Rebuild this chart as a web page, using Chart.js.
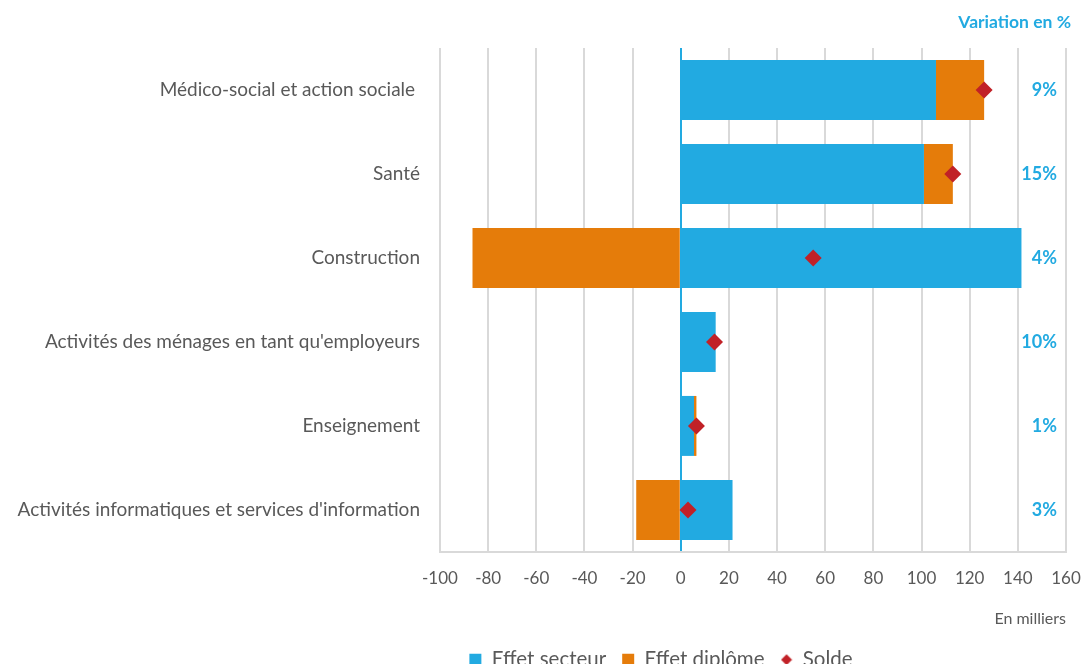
<!DOCTYPE html>
<html>
<head>
<meta charset="utf-8">
<script src="https://cdn.jsdelivr.net/npm/chart.js@4/dist/chart.umd.min.js"></script>
<style>
  body { margin: 0; overflow: hidden; background: #fff; }
  #cont { width: 1083px; height: 680px; }
</style>
</head>
<body>
<div id="cont"><canvas id="grafico"></canvas></div>
<script>
// Données du graphique
const secteurs = [
	"Médico-social et action sociale ",
	"Santé",
	"Construction",
	"Activités des ménages en tant qu'employeurs",
	"Enseignement",
	"Activités informatiques et services d'information",
];
const effetSecteur = [106, 101, 141.5, 14.5, 5.5, 21.5];
const effetDiplome = [20, 12, -86.5, 0, 1, -18.5];
const solde = [126, 113, 55, 14, 6.5, 3];
const variation = ["9%", "15%", "4%", "10%", "1%", "3%"];

const bleu = "rgb(34,170,225)";
const orange = "rgb(229,124,10)";
const rouge = "rgb(193,33,39)";
const gris = "#595959";
const police = "Lato, 'Open Sans', sans-serif";

// petit losange pour la légende
const losange = document.createElement("canvas");
losange.width = 12;
losange.height = 12;
(function () {
	const c = losange.getContext("2d");
	c.fillStyle = rouge;
	c.beginPath();
	c.moveTo(6, 0.5);
	c.lineTo(11.5, 6);
	c.lineTo(6, 11.5);
	c.lineTo(0.5, 6);
	c.closePath();
	c.fill();
})();

/* Textes à droite : variation en % */
const variationPlugin = {
	id: "variation",
	afterLayout(chart) {
		// les libellés de l'axe y débordent à gauche de la boîte de l'axe
		chart.scales.y.left = 0;
	},
	afterDatasetsDraw(chart) {
		const ctx = chart.ctx;
		const y = chart.scales.y;
		ctx.save();
		ctx.fillStyle = bleu;
		ctx.textAlign = "right";
		ctx.textBaseline = "middle";
		ctx.font = "bold 18px " + police;
		variation.forEach((v, i) => {
			ctx.fillText(v, 1057, y.getPixelForValue(i));
		});
		ctx.font = "bold 17.5px " + police;
		ctx.fillText("Variation en %", 1071, 22);
		ctx.restore();
	},
};

const plotRef = document.getElementById("grafico");
let config = {
	type: "bar",
	data: {
		labels: secteurs,
		datasets: [
			{
				label: "Effet secteur",
				data: effetSecteur,
				backgroundColor: bleu,
				stack: "effets",
				categoryPercentage: 0.714,
				barPercentage: 1,
			},
			{
				label: "Effet diplôme",
				data: effetDiplome,
				backgroundColor: orange,
				stack: "effets",
				categoryPercentage: 0.714,
				barPercentage: 1,
			},
			{
				type: "line",
				label: "Solde",
				data: solde,
				stack: "solde",
				showLine: false,
				pointStyle: "rectRot",
				pointRadius: 8.5,
				pointHoverRadius: 8.5,
				backgroundColor: rouge,
				borderColor: rouge,
				borderWidth: 0,
				order: -1,
			},
		],
	},
	options: {
		indexAxis: "y",
		responsive: true,
		maintainAspectRatio: false,
		animation: false,
		devicePixelRatio: 1,
		layout: { padding: { top: 48, right: 17, left: 256, bottom: 0 } },
		plugins: {
			tooltip: { enabled: false },
			legend: {
				position: "bottom",
				labels: {
					color: gris,
					font: { family: police, size: 20.5 },
					usePointStyle: true,
					boxHeight: 12,
					boxWidth: 12,
					padding: 16,
					sort: (a, b) => a.datasetIndex - b.datasetIndex,
					generateLabels(chart) {
						const items = Chart.defaults.plugins.legend.labels.generateLabels(chart);
						items.forEach((it) => {
							if (it.text === "Solde") it.pointStyle = losange;
							else it.pointStyle = "rect";
							it.lineWidth = 0;
						});
						return items;
					},
				},
			},
		},
		scales: {
			x: {
				stacked: true,
				min: -100,
				max: 160,
				ticks: {
					stepSize: 20,
					color: gris,
					font: { family: police, size: 17 },
					padding: 16,
				},
				grid: {
					drawTicks: false,
					color: (c) => (c.tick && c.tick.value === 0 ? bleu : "#d9d9d9"),
					lineWidth: 2,
				},
				border: { display: true, color: "#d9d9d9", width: 2 },
				title: {
					display: true,
					text: "En milliers",
					align: "end",
					color: gris,
					font: { family: police, size: 16 },
					padding: { top: 5, bottom: 5 },
				},
				afterFit(scale) {
					scale.paddingLeft = 0;
					scale.paddingRight = 0;
				},
			},
			y: {
				stacked: true,
				grid: { display: false, drawTicks: false },
				border: { display: false },
				ticks: {
					color: gris,
					font: { family: police, size: 19 },
					padding: 20,
				},
				afterFit(scale) {
					scale.width = 184;
				},
			},
		},
	},
	plugins: [variationPlugin],
};

let chart = new Chart(plotRef, config);
</script>
</body>
</html>
